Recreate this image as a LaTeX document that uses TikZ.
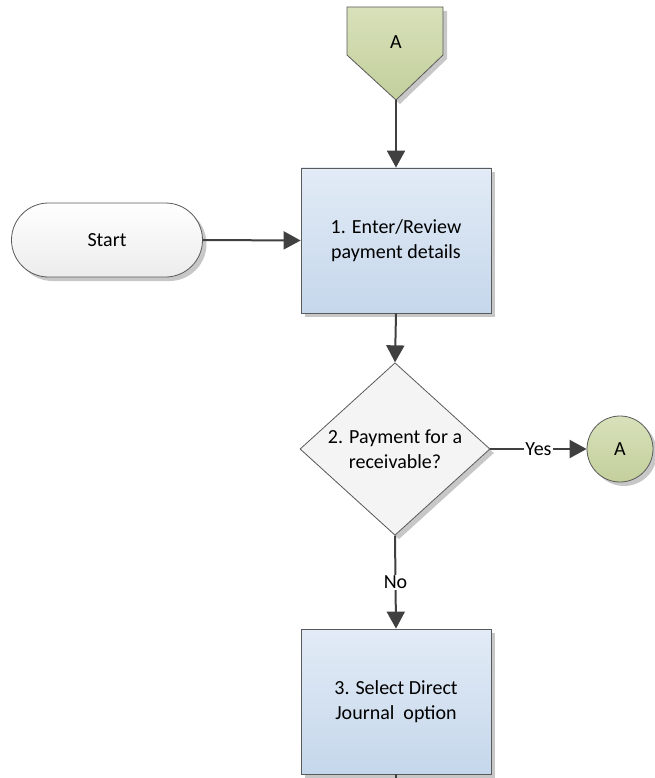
\documentclass[tikz,border=0pt]{standalone}
\usepackage{fontspec}
\setmainfont{Carlito}
\usetikzlibrary{shapes.geometric,arrows.meta,shadows}

\definecolor{boxtop}{HTML}{E2EBF6}
\definecolor{boxbot}{HTML}{C5D7EB}
\definecolor{greentop}{HTML}{D8E1BA}
\definecolor{greenbot}{HTML}{C3CF9C}
\definecolor{termtop}{HTML}{FFFFFF}
\definecolor{termbot}{HTML}{ECECEC}
\definecolor{decfill}{HTML}{F4F4F4}
\definecolor{linegray}{HTML}{404040}
\definecolor{edgegray}{HTML}{5A5A5A}

\begin{document}
\begin{tikzpicture}[x=1pt,y=-1pt,
  font=\fontsize{20}{24.5}\selectfont,
  shade/.style={drop shadow={shadow xshift=4pt,shadow yshift=-4pt,fill=black,opacity=0.22}},
  proc/.style={shape=rectangle,draw=edgegray,line width=0.8pt,top color=boxtop,bottom color=boxbot,
    minimum width=190pt,minimum height=145pt,align=center,inner sep=0pt,shade},
  term/.style={shape=rectangle,rounded corners=37pt,draw=edgegray,line width=0.8pt,
    top color=termtop,bottom color=termbot,minimum width=191pt,minimum height=74pt,shade},
  decision/.style={shape=diamond,draw=edgegray,line width=0.8pt,fill=decfill,
    minimum width=190pt,minimum height=142pt,inner sep=0pt,align=center,shade},
  connector/.style={shape=circle,draw=edgegray,line width=0.8pt,top color=greentop,bottom color=greenbot,
    minimum size=66pt,inner sep=0pt,shade},
  flow/.style={draw=linegray,line width=2pt,-{Triangle[length=17pt,width=18pt]}},
  plainflow/.style={draw=linegray,line width=2pt},
  lbl/.style={fill=white,inner sep=1pt}
]
\useasboundingbox (0,0) rectangle (654,778);

% off-page reference A
\path[draw=edgegray,line width=0.8pt,top color=greentop,bottom color=greenbot,shade]
  (347,7) -- (443,7) -- (443,55) -- (396,100) -- (347,55) -- cycle;
\node (offA) at (396,42) {A};
\coordinate (offAtip) at (396,100);

% main flow nodes
\node[term] (start) at (107,240) {Start};
\node[proc] (enter) at (396,240.5) {1. Enter/Review\\payment details};
\node[decision] (recv) at (395,449) {2. Payment for a\\receivable?};
\node[connector] (conA) at (620,449) {A};
\node[proc] (select) at (396,701.5) {3. Select Direct\\Journal\ \ option};
\coordinate (out) at (396,778);

% connectors
\draw[flow] (offAtip) -- (enter.north);
\draw[flow] (start.east) -- (enter.west);
\draw[flow] (enter.south) -- (recv.north);
\draw[flow] (recv.east) -- node[lbl] {Yes} (conA.west);
\draw[flow] (recv.south) -- node[lbl] {No} (select.north);
\draw[plainflow] (select.south) -- (out);
\end{tikzpicture}
\end{document}
